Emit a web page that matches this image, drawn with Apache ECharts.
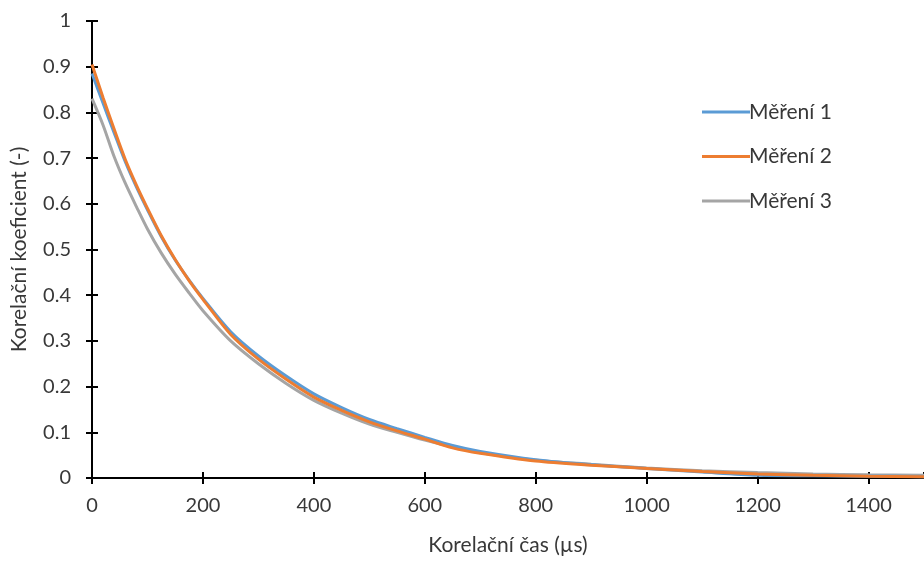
<!DOCTYPE html>
<html>
<head>
<meta charset="utf-8">
<script src="https://cdn.jsdelivr.net/npm/echarts@6/dist/echarts.min.js"></script>
<style>html,body{margin:0;padding:0;background:#fff}#c{width:924px;height:561px}</style>
</head>
<body>
<div id="c"></div>
<script>
const times = [0,20,40,60,80,100,125,150,175,200,250,300,350,400,450,500,550,600,650,700,800,900,1000,1100,1200,1300,1400,1500];
const mereni1 = [0.885,0.820,0.755,0.692,0.637,0.587,0.528,0.477,0.433,0.393,0.320,0.267,0.223,0.184,0.154,0.128,0.108,0.089,0.071,0.058,0.040,0.029,0.021,0.013,0.006,0.005,0.004,0.003];
const mereni2 = [0.905,0.832,0.763,0.697,0.641,0.590,0.530,0.478,0.432,0.391,0.314,0.260,0.216,0.177,0.148,0.123,0.103,0.085,0.066,0.054,0.037,0.028,0.021,0.014,0.009,0.006,0.004,0.003];
const mereni3 = [0.830,0.772,0.703,0.645,0.594,0.545,0.492,0.446,0.405,0.366,0.300,0.250,0.207,0.170,0.142,0.118,0.100,0.083,0.068,0.055,0.039,0.030,0.022,0.016,0.012,0.009,0.007,0.006];
const seriesNames = ['Měření 1','Měření 2','Měření 3'];
const xTitle = 'Korelační čas (µs)';
const yTitle = 'Korelační koeficient (-)';

const FONT = 'Lato';
const TXT = '#383838';
const pair = (ys) => times.map((t,i)=>[t, ys[i]]);

const chart = echarts.init(document.getElementById('c'), null, {renderer:'canvas'});
const baseX = {
  type:'value', min:0, max:1500, interval:200, position:'bottom',
  splitLine:{show:false}
};
const baseY = {
  type:'value', min:0, max:1, interval:0.1, position:'left',
  splitLine:{show:false}
};
chart.setOption({
  animation:false,
  backgroundColor:'#fff',
  grid:{left:92, right:-9, top:21, bottom:80, containLabel:false},
  legend:{
    orient:'vertical', left:697, top:95,
    icon:'rect', itemWidth:48, itemHeight:3, itemGap:20.5,
    textStyle:{fontFamily:FONT, fontSize:21, lineHeight:24, height:24, color:TXT, padding:[0,0,0,-6]},
    data:seriesNames
  },
  xAxis:[
    Object.assign({}, baseX, {
      name:xTitle, nameLocation:'middle', nameGap:57,
      nameTextStyle:{fontFamily:FONT, fontSize:21, color:TXT},
      axisLine:{show:true, lineStyle:{color:'#000', width:2}},
      axisTick:{show:true, inside:false, length:6, lineStyle:{color:'#000', width:2}},
      axisLabel:{margin:18, fontFamily:FONT, fontSize:20, color:TXT, showMaxLabel:false,
        formatter:(v)=> v>1400 ? '' : String(v)}
    }),
    Object.assign({}, baseX, {
      axisLine:{show:false},
      axisTick:{show:true, inside:true, length:6, lineStyle:{color:'#000', width:2}},
      axisLabel:{show:false}
    })
  ],
  yAxis:[
    Object.assign({}, baseY, {
      name:yTitle, nameLocation:'middle', nameGap:62,
      nameTextStyle:{fontFamily:FONT, fontSize:21, color:TXT},
      axisLine:{show:true, lineStyle:{color:'#000', width:2}},
      axisTick:{show:true, inside:false, length:6, lineStyle:{color:'#000', width:2}},
      axisLabel:{margin:21, fontFamily:FONT, fontSize:20, color:TXT,
        formatter:(v)=> String(Math.round(v*10)/10)}
    }),
    Object.assign({}, baseY, {
      axisLine:{show:false},
      axisTick:{show:true, inside:true, length:6, lineStyle:{color:'#000', width:2}},
      axisLabel:{show:false}
    })
  ],
  series:[
    {name:seriesNames[0], type:'line', data:pair(mereni1), xAxisIndex:0, yAxisIndex:0, symbol:'none', smooth:0.3,
      lineStyle:{color:'#5B9BD5', width:3}, itemStyle:{color:'#5B9BD5'}, z:3},
    {name:seriesNames[1], type:'line', data:pair(mereni2), xAxisIndex:0, yAxisIndex:0, symbol:'none', smooth:0.3,
      lineStyle:{color:'#ED7D31', width:3}, itemStyle:{color:'#ED7D31'}, z:4},
    {name:seriesNames[2], type:'line', data:pair(mereni3), xAxisIndex:0, yAxisIndex:0, symbol:'none', smooth:0.3,
      lineStyle:{color:'#A5A5A5', width:3}, itemStyle:{color:'#A5A5A5'}, z:2}
  ]
});
</script>
</body>
</html>
